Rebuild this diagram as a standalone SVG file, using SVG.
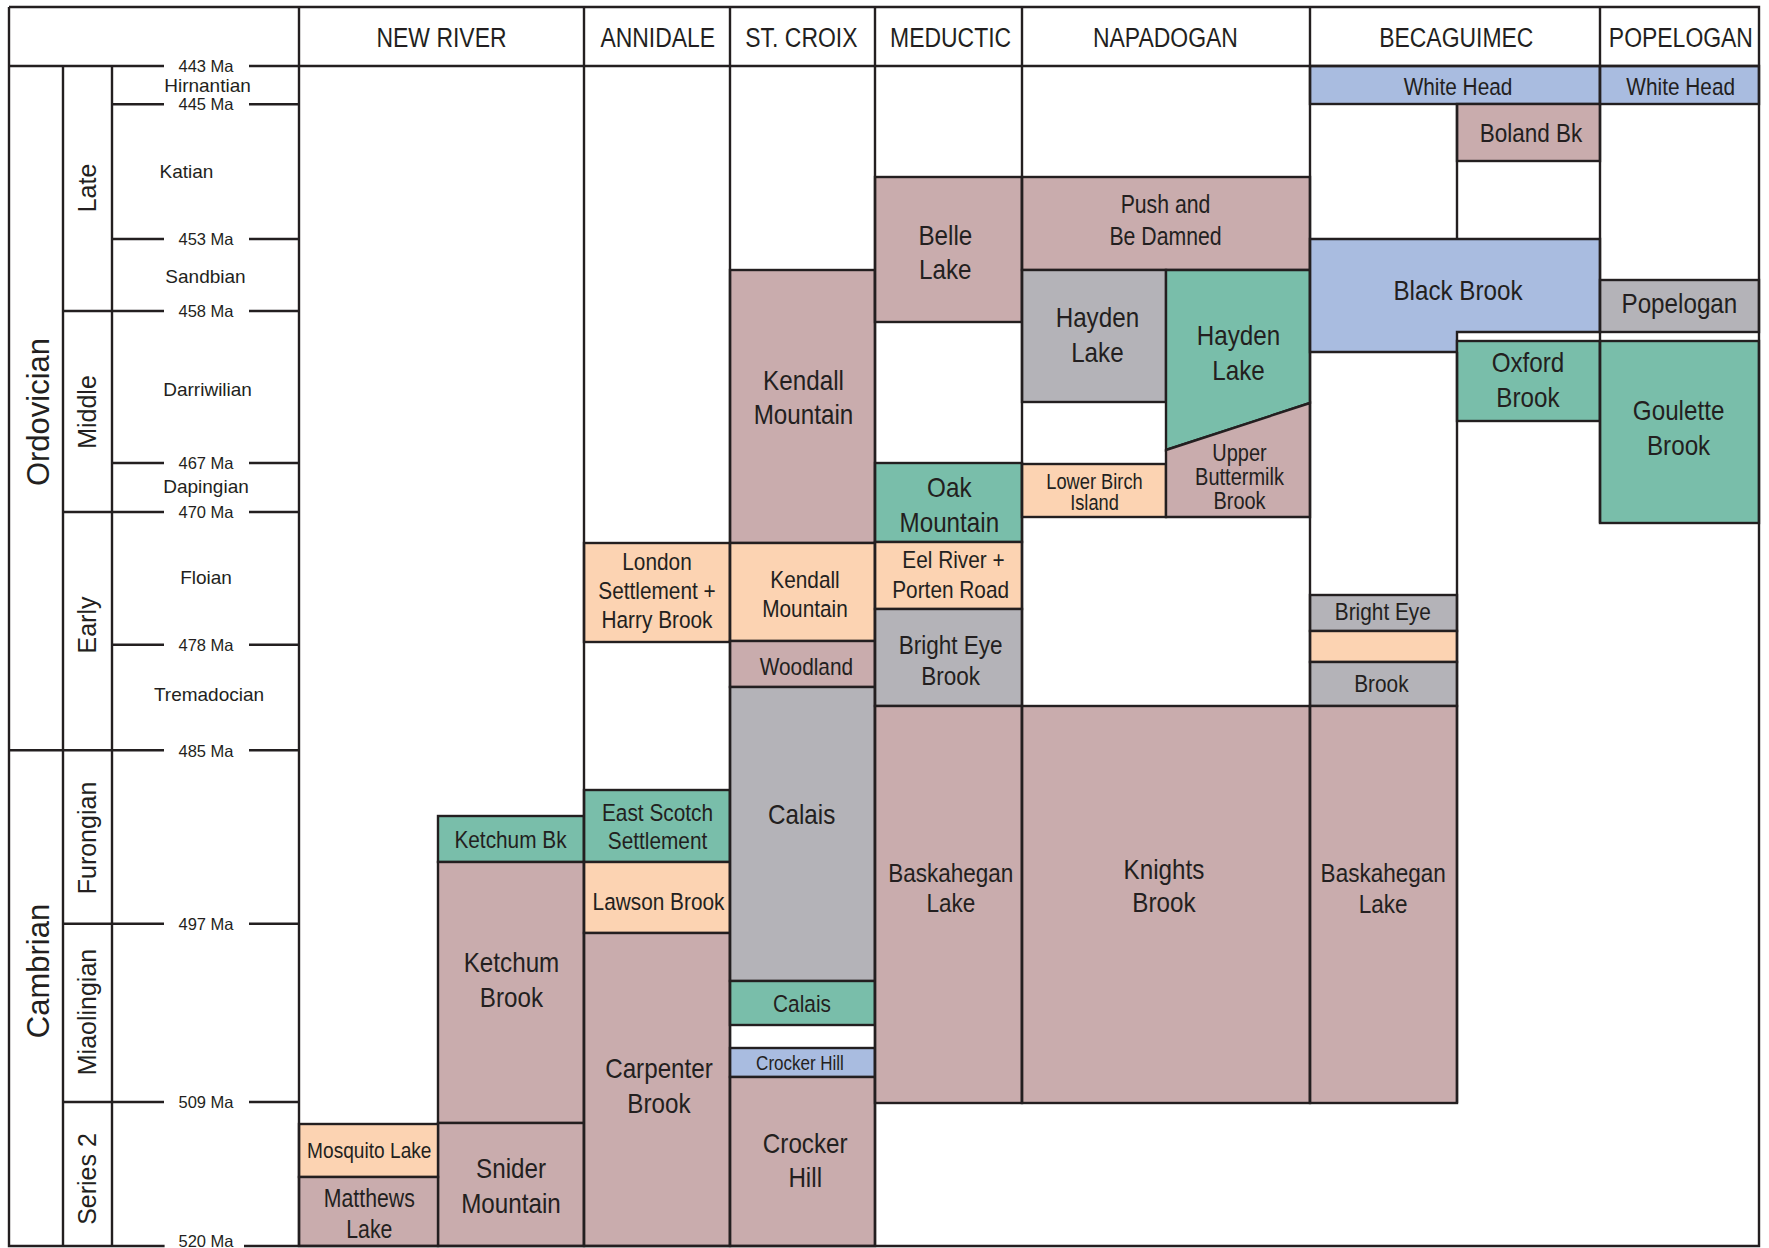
<svg xmlns="http://www.w3.org/2000/svg" width="1769" height="1248" viewBox="0 0 1769 1248">
<style>
.b{stroke:#231F20;stroke-width:2.4;stroke-linejoin:miter}
.m{fill:#C9ACAD}.g{fill:#79BEAA}.p{fill:#FCD3B2}.y{fill:#B4B3B8}.u{fill:#A9BCE0}
.l{stroke:#231F20;stroke-width:2.4;fill:none}
.t{font-family:"Liberation Sans",Arial,sans-serif;fill:#231F20;text-anchor:middle}
.s{font-family:"Liberation Sans",Arial,sans-serif;fill:#231F20;text-anchor:middle}
.f19{font-size:20px}.f22{font-size:21.5px}.f225{font-size:22.5px}.f23{font-size:23.5px}.f24{font-size:24.5px}.f25{font-size:25px}.f26{font-size:26.5px}.f28{font-size:28.5px}.f27{font-size:27px}
.a{font-size:16.5px}.st{font-size:19px}.ep{font-size:25px}.pe{font-size:31px}
</style>
<rect x="0" y="0" width="1769" height="1248" fill="#FFFFFF"/>

<g id="new-river">
<g id="ketchum-bk"><rect class="b g" x="438" y="816" width="146" height="46"/><text class="t f24" transform="translate(510.5,0) scale(.85,1)" y="848.3">Ketchum Bk</text></g>
<g id="ketchum-brook"><rect class="b m" x="438" y="862" width="146" height="261"/><text class="t f28" transform="translate(511.5,0) scale(.85,1)"><tspan x="0" y="971.7">Ketchum</tspan><tspan x="0" y="1007.3">Brook</tspan></text></g>
<g id="snider-mountain"><rect class="b m" x="438" y="1123" width="146" height="123"/><text class="t f28" transform="translate(511,0) scale(.85,1)"><tspan x="0" y="1178.3">Snider</tspan><tspan x="0" y="1213.3">Mountain</tspan></text></g>
<g id="mosquito-lake"><rect class="b p" x="299" y="1124" width="139" height="53"/><text class="t f225" transform="translate(369.3,0) scale(.85,1)" y="1158.3">Mosquito Lake</text></g>
<g id="matthews-lake"><rect class="b m" x="299" y="1177" width="139" height="69"/><text class="t f25" transform="translate(369.3,0) scale(.85,1)"><tspan x="0" y="1207.3">Matthews</tspan><tspan x="0" y="1238.3">Lake</tspan></text></g>
</g>

<g id="annidale">
<g id="london-settlement"><rect class="b p" x="584" y="543" width="146" height="99"/><text class="t f24" transform="translate(657,0) scale(.85,1)"><tspan x="0" y="570">London</tspan><tspan x="0" y="599">Settlement +</tspan><tspan x="0" y="627.7">Harry Brook</tspan></text></g>
<g id="east-scotch"><rect class="b g" x="584" y="790" width="146" height="72"/><text class="t f24" transform="translate(657.5,0) scale(.85,1)"><tspan x="0" y="821">East Scotch</tspan><tspan x="0" y="849">Settlement</tspan></text></g>
<g id="lawson-brook"><rect class="b p" x="584" y="862" width="146" height="71"/><text class="t f24" transform="translate(658.5,0) scale(.85,1)" y="910">Lawson Brook</text></g>
<g id="carpenter-brook"><rect class="b m" x="584" y="933" width="146" height="313"/><text class="t f28" transform="translate(659,0) scale(.85,1)"><tspan x="0" y="1078.3">Carpenter</tspan><tspan x="0" y="1112.7">Brook</tspan></text></g>
</g>

<g id="st-croix">
<g id="kendall-mountain-1"><rect class="b m" x="730" y="270" width="145" height="273"/><text class="t f28" transform="translate(803.5,0) scale(.85,1)"><tspan x="0" y="390">Kendall</tspan><tspan x="0" y="424">Mountain</tspan></text></g>
<g id="kendall-mountain-2"><rect class="b p" x="730" y="543" width="145" height="98"/><text class="t f24" transform="translate(805,0) scale(.85,1)"><tspan x="0" y="588.3">Kendall</tspan><tspan x="0" y="617.3">Mountain</tspan></text></g>
<g id="woodland"><rect class="b m" x="730" y="641" width="145" height="46"/><text class="t f24" transform="translate(806.4,0) scale(.85,1)" y="675">Woodland</text></g>
<g id="calais-1"><rect class="b y" x="730" y="687" width="145" height="294"/><text class="t f28" transform="translate(801.6,0) scale(.85,1)" y="824.5">Calais</text></g>
<g id="calais-2"><rect class="b g" x="730" y="981" width="145" height="44"/><text class="t f24" transform="translate(802,0) scale(.85,1)" y="1011.7">Calais</text></g>
<g id="crocker-hill-1"><rect class="b u" x="730" y="1048" width="145" height="29"/><text class="t f19" transform="translate(800,0) scale(.85,1)" y="1070">Crocker Hill</text></g>
<g id="crocker-hill-2"><rect class="b m" x="730" y="1077" width="145" height="169"/><text class="t f28" transform="translate(805.2,0) scale(.85,1)"><tspan x="0" y="1153.3">Crocker</tspan><tspan x="0" y="1186.7">Hill</tspan></text></g>
</g>

<g id="meductic">
<g id="belle-lake"><rect class="b m" x="875" y="177" width="147" height="145"/><text class="t f28" transform="translate(945.3,0) scale(.85,1)"><tspan x="0" y="245">Belle</tspan><tspan x="0" y="279.3">Lake</tspan></text></g>
<g id="oak-mountain"><rect class="b g" x="875" y="463" width="147" height="79"/><text class="t f28" transform="translate(949.3,0) scale(.85,1)"><tspan x="0" y="496.7">Oak</tspan><tspan x="0" y="531.7">Mountain</tspan></text></g>
<g id="eel-river"><rect class="b p" x="875" y="542" width="147" height="67"/><text class="t f24" transform="translate(952,0) scale(.85,1)"><tspan x="1.8" y="568.3">Eel River +</tspan><tspan x="-1.6" y="597.7">Porten Road</tspan></text></g>
<g id="bright-eye-brook"><rect class="b y" x="875" y="609" width="147" height="97"/><text class="t f26" transform="translate(950.6,0) scale(.85,1)"><tspan x="0" y="654">Bright Eye</tspan><tspan x="0" y="685">Brook</tspan></text></g>
<g id="baskahegan-lake-1"><rect class="b m" x="875" y="706" width="147" height="397"/><text class="t f26" transform="translate(950.8,0) scale(.85,1)"><tspan x="0" y="881.7">Baskahegan</tspan><tspan x="0" y="911.7">Lake</tspan></text></g>
</g>

<g id="napadogan">
<g id="push-and-be-damned"><rect class="b m" x="1022" y="177" width="288" height="93"/><text class="t f25" transform="translate(1165.5,0) scale(.85,1)"><tspan x="0" y="213.3">Push and</tspan><tspan x="0" y="245">Be Damned</tspan></text></g>
<g id="hayden-lake-1"><rect class="b y" x="1022" y="270" width="144" height="132"/><text class="t f28" transform="translate(1097.4,0) scale(.85,1)"><tspan x="0" y="326.7">Hayden</tspan><tspan x="0" y="361.7">Lake</tspan></text></g>
<g id="lower-birch-island"><rect class="b p" x="1022" y="464" width="144" height="53"/><text class="t f22" transform="translate(1094.5,0) scale(.85,1)"><tspan x="0" y="489">Lower Birch</tspan><tspan x="0" y="510.3">Island</tspan></text></g>
<g id="hayden-lake-2"><polygon class="b g" points="1166,270 1310,270 1310,403 1166,450"/><text class="t f28" transform="translate(1238.5,0) scale(.85,1)"><tspan x="0" y="345">Hayden</tspan><tspan x="0" y="380">Lake</tspan></text></g>
<g id="upper-buttermilk-brook"><polygon class="b m" points="1166,450 1310,403 1310,517 1166,517"/><text class="t f23" transform="translate(1239.5,0) scale(.85,1)"><tspan x="0" y="461">Upper</tspan><tspan x="0" y="485">Buttermilk</tspan><tspan x="0" y="509.3">Brook</tspan></text></g>
<g id="knights-brook"><rect class="b m" x="1022" y="706" width="288" height="397"/><text class="t f28" transform="translate(1164,0) scale(.85,1)"><tspan x="0" y="879.3">Knights</tspan><tspan x="0" y="912">Brook</tspan></text></g>
</g>

<g id="becaguimec">
<g id="white-head-1"><rect class="b u" x="1310" y="66" width="290" height="38"/><text class="t f24" transform="translate(1458,0) scale(.85,1)" y="95">White Head</text></g>
<g id="boland-bk"><rect class="b m" x="1457" y="104" width="143" height="57"/><text class="t f26" transform="translate(1531,0) scale(.85,1)" y="141.7">Boland Bk</text></g>
<g id="black-brook"><polygon class="b u" points="1310,239 1600,239 1600,332 1457,332 1457,352 1310,352"/><text class="t f28" transform="translate(1458,0) scale(.85,1)" y="300">Black Brook</text></g>
<g id="oxford-brook"><rect class="b g" x="1457" y="341" width="143" height="80"/><text class="t f28" transform="translate(1528,0) scale(.85,1)"><tspan x="0" y="371.7">Oxford</tspan><tspan x="0" y="406.7">Brook</tspan></text></g>
<g id="bright-eye"><rect class="b y" x="1310" y="595" width="147" height="36"/><text class="t f24" transform="translate(1382.8,0) scale(.85,1)" y="620">Bright Eye</text></g>
<g id="peach-band"><rect class="b p" x="1310" y="631" width="147" height="31"/></g>
<g id="brook"><rect class="b y" x="1310" y="662" width="147" height="44"/><text class="t f24" transform="translate(1381.4,0) scale(.85,1)" y="691.7">Brook</text></g>
<g id="baskahegan-lake-2"><rect class="b m" x="1310" y="706" width="147" height="397"/><text class="t f26" transform="translate(1383.2,0) scale(.85,1)"><tspan x="0" y="881.7">Baskahegan</tspan><tspan x="0" y="912.7">Lake</tspan></text></g>
</g>

<g id="popelogan">
<g id="white-head-2"><rect class="b u" x="1600" y="66" width="159" height="38"/><text class="t f24" transform="translate(1680.7,0) scale(.85,1)" y="95">White Head</text></g>
<g id="popelogan-fm"><rect class="b y" x="1600" y="280" width="159" height="52"/><text class="t f28" transform="translate(1679.4,0) scale(.85,1)" y="313.3">Popelogan</text></g>
<g id="goulette-brook"><rect class="b g" x="1600" y="341" width="159" height="182"/><text class="t f28" transform="translate(1678.6,0) scale(.85,1)"><tspan x="0" y="420.5">Goulette</tspan><tspan x="0" y="455">Brook</tspan></text></g>
</g>

<g id="connectors">
<path class="l" d="M9,7 H1759 V1246 H244 M164.6,1246 H9 V7"/>
<path class="l" d="M9,66 H164 M249,66 H1759"/>
<path class="l" d="M63,66 V1246 M112,66 V1246 M299,7 V1246 M584,7 V1246 M730,7 V1246 M875,7 V1246 M1022,7 V1103 M1310,7 V1103 M1457,104 V239 M1457,352 V1103 M1600,7 V523"/>
<path class="l" d="M112,104.3 H164 M249,104.3 H299 M112,239 H164 M249,239 H300 M63,311 H164 M249,311 H299 M112,463 H164 M249,463 H299 M63,512 H164 M249,512 H300 M112,644.7 H164 M249,644.7 H299 M9,750.3 H164 M249,750.3 H299 M63,923.7 H164 M249,923.7 H300 M63,1102 H164 M249,1102 H299"/>
</g>

<g id="timescale">
<text class="s a" x="206" y="71.7">443 Ma</text>
<text class="s st" x="207.5" y="91.7">Hirnantian</text>
<text class="s a" x="206" y="110">445 Ma</text>
<text class="s st" x="186.4" y="178.3">Katian</text>
<text class="s a" x="206" y="244.7">453 Ma</text>
<text class="s st" x="205.5" y="283.3">Sandbian</text>
<text class="s a" x="206" y="316.8">458 Ma</text>
<text class="s st" x="207.6" y="396">Darriwilian</text>
<text class="s a" x="206" y="469">467 Ma</text>
<text class="s st" x="206" y="493">Dapingian</text>
<text class="s a" x="206" y="518">470 Ma</text>
<text class="s st" x="206" y="584">Floian</text>
<text class="s a" x="206" y="650.5">478 Ma</text>
<text class="s st" x="209" y="701">Tremadocian</text>
<text class="s a" x="206" y="756.5">485 Ma</text>
<text class="s a" x="206" y="929.7">497 Ma</text>
<text class="s a" x="206" y="1108">509 Ma</text>
<text class="s a" x="206" y="1247">520 Ma</text>
<text class="s ep" transform="translate(96,188) rotate(-90)">Late</text>
<text class="s ep" transform="translate(96,412) rotate(-90)">Middle</text>
<text class="s ep" transform="translate(96,625) rotate(-90)">Early</text>
<text class="s ep" transform="translate(96,838) rotate(-90)">Furongian</text>
<text class="s ep" transform="translate(96,1012) rotate(-90)">Miaolingian</text>
<text class="s ep" transform="translate(96,1179) rotate(-90)">Series 2</text>
<text class="s pe" transform="translate(49,412) rotate(-90)">Ordovician</text>
<text class="s pe" transform="translate(49,971) rotate(-90)">Cambrian</text>
</g>

<g id="headers">
<text class="t f27" transform="translate(441.5,0) scale(.85,1)" y="47.5">NEW RIVER</text>
<text class="t f27" transform="translate(657.8,0) scale(.85,1)" y="47.5">ANNIDALE</text>
<text class="t f27" transform="translate(801.4,0) scale(.85,1)" y="47.5">ST. CROIX</text>
<text class="t f27" transform="translate(950.6,0) scale(.85,1)" y="47.5">MEDUCTIC</text>
<text class="t f27" transform="translate(1165.4,0) scale(.85,1)" y="47.5">NAPADOGAN</text>
<text class="t f27" transform="translate(1456.3,0) scale(.85,1)" y="47.5">BECAGUIMEC</text>
<text class="t f27" transform="translate(1680.9,0) scale(.85,1)" y="47.5">POPELOGAN</text>
</g>
</svg>
